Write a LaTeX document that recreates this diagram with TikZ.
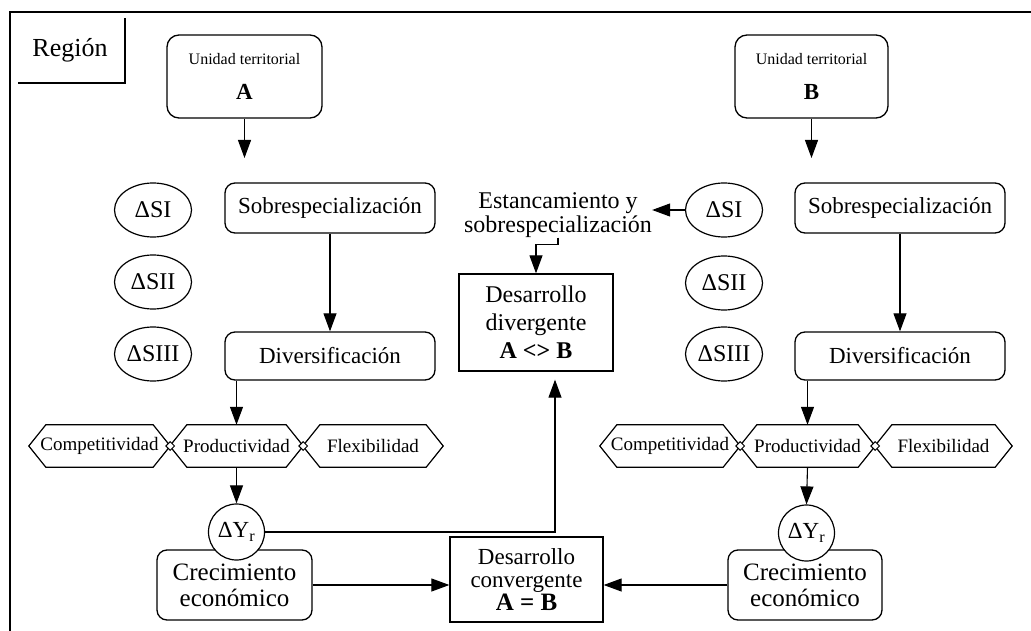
\documentclass[tikz,border=0pt]{standalone}
\usepackage{fontspec}
\setmainfont{Liberation Serif}
\usetikzlibrary{arrows.meta,shapes.geometric,calc}
\begin{document}
\begin{tikzpicture}[x=1pt,y=-1pt,
  every node/.style={font=\fontsize{23}{25}\selectfont, inner sep=0pt},
  rbox/.style={draw, line width=1.3pt, rounded corners=10pt, align=center},
  sqbox/.style={draw, line width=1.3pt, align=center},
  ell/.style={draw, ellipse, line width=1.2pt, minimum width=77pt, minimum height=54pt, font=\fontsize{24}{26}\selectfont},
  hx/.style={minimum height=42pt, font=\fontsize{19}{21}\selectfont},
  hexline/.style={line width=1.2pt, line join=miter},
  arr/.style={line width=1.1pt, -{Triangle[length=18pt,width=13pt]}},
  junc/.style={draw, diamond, fill=white, line width=1pt, minimum size=9pt},
  circ/.style={draw, circle, fill=white, line width=1.2pt, minimum size=56pt}
]
\useasboundingbox (0,0) rectangle (1031,631);
% frame
\draw[line width=2pt] (10,631) -- (10,12) -- (1031,12);
\node[font=\fontsize{26}{28}\selectfont] (region) at (70,50) {Región};
\draw[line width=1.5pt] (18,83) -- (125,83) -- (125,18);

% ---------- side A ----------
\node[rbox, minimum width=155pt, minimum height=83pt, rounded corners=12pt] (uniA) at (244.5,76.5)
  {{\fontsize{16}{19}\selectfont Unidad territorial}\\[10pt]{\fontsize{23}{25}\selectfont\bfseries A}};
\coordinate (uAend) at (244.5,158);
\node[ell] (siA) at (153,210) {ΔSI};
\node[ell] (siiA) at (153,282) {ΔSII};
\node[ell] (siiiA) at (153,354) {ΔSIII};
\node[rbox, minimum width=210pt, minimum height=50pt] (sobreA) at (330,208) {Sobrespecialización};
\node[rbox, minimum width=210pt, minimum height=48pt] (divA) at (330,356) {Diversificación};
\node[hx, minimum width=141pt] (compA) at (99.5,446) {Competitividad};
\node[hx, minimum width=133pt] (prodA) at (236.5,446) {Productividad};
\node[hx, minimum width=140pt] (flexA) at (373,446) {Flexibilidad};
\node[rbox, minimum width=155pt, minimum height=70pt, font=\fontsize{25}{26}\selectfont] (crecA) at (234.5,585) {Crecimiento\\económico};
\node[circ] (dyA) at (236.5,532) {ΔY\textsubscript{r}};

% ---------- side B ----------
\node[rbox, minimum width=153pt, minimum height=83pt, rounded corners=12pt] (uniB) at (811.5,76.5)
  {{\fontsize{16}{19}\selectfont Unidad territorial}\\[10pt]{\fontsize{23}{25}\selectfont\bfseries B}};
\coordinate (uBend) at (811.5,158);
\node[ell] (siB) at (724,210) {ΔSI};
\node[ell] (siiB) at (724,283) {ΔSII};
\node[ell] (siiiB) at (724,354) {ΔSIII};
\node[rbox, minimum width=210pt, minimum height=50pt] (sobreB) at (900,208) {Sobrespecialización};
\node[rbox, minimum width=210pt, minimum height=48pt] (divB) at (900,356) {Diversificación};
\node[hx, minimum width=140pt] (compB) at (670,446) {Competitividad};
\node[hx, minimum width=135pt] (prodB) at (807.5,446) {Productividad};
\node[hx, minimum width=137pt] (flexB) at (943.5,446) {Flexibilidad};
\node[rbox, minimum width=154pt, minimum height=70pt, font=\fontsize{25}{26}\selectfont] (crecB) at (805,585) {Crecimiento\\económico};
\node[circ] (dyB) at (806.5,533) {ΔY\textsubscript{r}};

% hexagon outlines
\foreach \n in {compA,prodA,flexA,compB,prodB,flexB}
  \draw[hexline] (\n.west) -- ([xshift=17pt]\n.north west) -- ([xshift=-17pt]\n.north east)
    -- (\n.east) -- ([xshift=-17pt]\n.south east) -- ([xshift=17pt]\n.south west) -- cycle;
\node[junc] (j1A) at (compA.east) {};
\node[junc] (j2A) at (prodA.east) {};
\node[junc] (j1B) at (compB.east) {};
\node[junc] (j2B) at (prodB.east) {};

% ---------- centre ----------
\node[align=center, font=\fontsize{24}{24}\selectfont] (estanc) at (558,215) {Estancamiento y\\sobrespecialización};
\node[sqbox, minimum width=154pt, minimum height=97pt, font=\fontsize{24}{28}\selectfont] (div) at (536,322.5)
  {Desarrollo\\divergente\\\textbf{A <> B}};
\node[sqbox, minimum width=153pt, minimum height=85pt, font=\fontsize{23}{23}\selectfont] (conv) at (526.5,579.5)
  {Desarrollo\\convergente\\{\fontsize{25}{27}\selectfont\textbf{A = B}}};
\coordinate (divin) at ([xshift=19pt]div.south);

% ---------- connectors ----------
\draw[arr] (uniA.south) -- (uAend);
\draw[arr] (uniB.south) -- (uBend);
\draw[arr] (sobreA.south) -- (divA.north);
\draw[arr] (sobreB.south) -- (divB.north);
\draw[arr] (prodA.north |- divA.south) -- (prodA.north);
\draw[arr] (prodB.north |- divB.south) -- (prodB.north);
\draw[arr] (prodA.south) -- (dyA.north);
\draw[arr] (prodB.south) -- (dyB.north);
\draw[arr, shorten >=8pt] (dyA.east) -| (divin);
\draw[arr] (crecA.east) -- (crecA.east -| conv.west);
\draw[arr] (crecB.west) -- (crecB.west -| conv.east);
\draw[arr] (siB.west) -- (siB.west -| estanc.east);
\draw[arr] (estanc.south) -- ++(0,7) -| (div.north);
\end{tikzpicture}
\end{document}
